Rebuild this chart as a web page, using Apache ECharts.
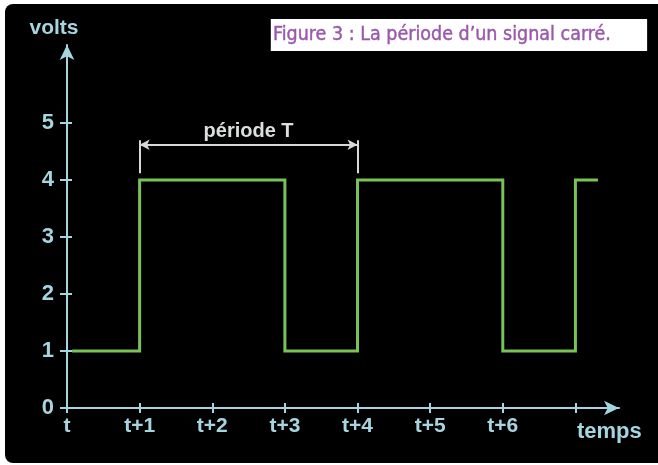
<!DOCTYPE html>
<html>
<head>
<meta charset="utf-8">
<style>
  html, body { margin: 0; padding: 0; background: #ffffff; }
  #chart { width: 658px; height: 465px; }
</style>
<script src="https://cdn.jsdelivr.net/npm/echarts@6/dist/echarts.min.js"></script>
</head>
<body>
<div id="chart"></div>
<script>
// Square wave: time (in periods of one unit) and level in volts
const signalTimes = [0.07, 1, 1, 3, 3, 4, 4, 6, 6, 7, 7, 7.31];
const signalVolts = [1, 1, 4, 4, 1, 1, 4, 4, 1, 1, 4, 4];

// Axis ticks and labels
const timeTicks = [0, 1, 2, 3, 4, 5, 6, 7];
const timeLabels = ['t', 't+1', 't+2', 't+3', 't+4', 't+5', 't+6'];
const voltTicks = [0, 1, 2, 3, 4, 5];

// Period annotation: one full cycle, drawn above the high level
const periodStart = 1;
const periodEnd = 4;
const periodLevel = 4.62;
const periodBarTop = 4.70;
const periodBarBottom = 4.12;
const periodText = 'période T';

const axisColor = '#a6d5df';
const labelFont = 'Liberation Sans';

const chart = echarts.init(document.getElementById('chart'));

const timeMax = 7.6;
const voltMax = 6.37;

const tickStyle = { color: axisColor, width: 2 };

chart.setOption({
  backgroundColor: '#ffffff',
  animation: false,
  title: {
    text: 'Figure 3 : La période d\u2019un signal carré.',
    left: 271,
    top: 19,
    backgroundColor: '#ffffff',
    padding: [5, 36, 5, 2],
    textStyle: {
      color: '#9a58aa',
      fontFamily: 'DejaVu Sans Condensed',
      fontWeight: 'normal',
      fontSize: 19.5,
      lineHeight: 22,
      textBorderColor: '#9a58aa',
      textBorderWidth: 0.4
    }
  },
  graphic: [
    {
      type: 'rect',
      z: -100,
      silent: true,
      shape: { x: 5, y: 4, width: 653, height: 459, r: [8, 0, 0, 8] },
      style: { fill: '#000000' }
    },
    {
      type: 'text',
      left: 577,
      top: 421,
      style: {
        text: 'temps',
        fill: axisColor,
        font: 'bold 22px ' + labelFont
      }
    }
  ],
  grid: { left: 67, right: 39, top: 45, bottom: 57 },
  xAxis: [
    {
      type: 'value',
      min: 0,
      max: timeMax,
      splitLine: { show: false },
      axisLine: {
        onZero: false,
        lineStyle: { color: axisColor, width: 2 },
        symbol: ['none', 'arrow'],
        symbolSize: [11, 15]
      },
      axisTick: { customValues: timeTicks, length: 5, lineStyle: tickStyle },
      axisLabel: {
        customValues: timeTicks.slice(0, timeLabels.length),
        formatter: v => timeLabels[Math.round(v)],
        color: axisColor,
        fontFamily: labelFont,
        fontWeight: 'bold',
        fontSize: 21,
        margin: 8
      }
    },
    {
      // upward half of the time ticks, on the same baseline
      type: 'value',
      position: 'bottom',
      min: 0,
      max: timeMax,
      splitLine: { show: false },
      axisLine: { show: false, onZero: false },
      axisTick: { customValues: timeTicks, inside: true, length: 5, lineStyle: tickStyle },
      axisLabel: { show: false }
    }
  ],
  yAxis: [
    {
      type: 'value',
      min: 0,
      max: voltMax,
      name: 'volts',
      nameLocation: 'end',
      nameGap: 6,
      nameTextStyle: {
        color: axisColor,
        fontFamily: labelFont,
        fontWeight: 'bold',
        fontSize: 21,
        padding: [0, 26, 0, 0]
      },
      splitLine: { show: false },
      axisLine: {
        onZero: false,
        lineStyle: { color: axisColor, width: 2 },
        symbol: ['none', 'arrow'],
        symbolSize: [11, 15]
      },
      axisTick: { customValues: voltTicks, length: 7, lineStyle: tickStyle },
      axisLabel: {
        customValues: voltTicks,
        color: axisColor,
        fontFamily: labelFont,
        fontWeight: 'bold',
        fontSize: 22,
        margin: 13
      }
    },
    {
      // right-hand half of the volt ticks, on the same vertical axis
      type: 'value',
      position: 'left',
      min: 0,
      max: voltMax,
      splitLine: { show: false },
      axisLine: { show: false, onZero: false },
      axisTick: { customValues: voltTicks, inside: true, length: 5, lineStyle: tickStyle },
      axisLabel: { show: false }
    }
  ],
  series: [
    {
      type: 'line',
      name: 'signal',
      xAxisIndex: 0,
      yAxisIndex: 0,
      data: signalTimes.map((t, i) => [t, signalVolts[i]]),
      showSymbol: false,
      lineStyle: { color: '#79c257', width: 3, join: 'miter' },
      z: 3
    },
    {
      type: 'line',
      name: 'period',
      xAxisIndex: 0,
      yAxisIndex: 0,
      data: [],
      markLine: {
        silent: true,
        animation: false,
        lineStyle: { color: '#d6d9da', width: 2, type: 'solid' },
        data: [
          [
            { coord: [periodStart, periodLevel], symbol: 'arrow', symbolSize: [8, 10] },
            { coord: [periodEnd, periodLevel], symbol: 'arrow', symbolSize: [8, 10] }
          ],
          [
            { coord: [periodStart, periodBarTop], symbol: 'none' },
            { coord: [periodStart, periodBarBottom], symbol: 'none' }
          ],
          [
            { coord: [periodEnd, periodBarTop], symbol: 'none' },
            { coord: [periodEnd, periodBarBottom], symbol: 'none' }
          ]
        ],
        label: {
          show: true,
          position: 'middle',
          formatter: p => (p.dataIndex === 0 ? periodText : ''),
          color: '#dcdfe0',
          fontFamily: labelFont,
          fontWeight: 'bold',
          fontSize: 20,
          distance: 3
        }
      }
    }
  ]
});
</script>
</body>
</html>
